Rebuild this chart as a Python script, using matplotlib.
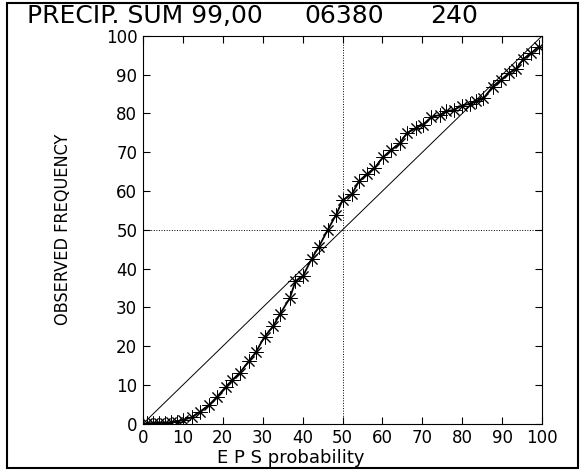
import matplotlib
matplotlib.use('Agg')
import matplotlib.pyplot as plt
from matplotlib.patches import Rectangle

# reliability diagram data
eps_prob = [1.0, 2.5, 4.0, 5.5, 7.0, 8.5, 10.1, 12.2, 14.3, 16.6, 18.6, 20.8,
            22.4, 24.3, 26.5, 28.3, 30.5, 32.6, 34.4, 36.8, 38.2, 40.1, 42.3,
            44.1, 46.3, 48.4, 50.0, 52.4, 54.1, 56.1, 58.0, 60.1, 62.2, 64.3,
            66.1, 68.3, 70.1, 72.2, 74.3, 75.9, 77.8, 79.9, 81.8, 83.4, 85.3,
            87.6, 89.7, 91.8, 93.4, 95.3, 97.2, 99.1]
obs_freq = [0.2, 0.2, 0.3, 0.3, 0.4, 0.6, 1.0, 1.7, 3.1, 4.9, 7.0, 9.6,
            11.3, 13.2, 16.1, 18.5, 22.5, 25.1, 28.4, 32.4, 36.7, 38.1, 42.6,
            45.7, 50.0, 53.9, 57.6, 59.3, 62.5, 64.4, 65.9, 68.7, 70.6, 72.3,
            74.9, 76.2, 77.1, 79.0, 79.6, 80.5, 80.9, 82.0, 82.5, 83.1, 83.9,
            86.9, 88.7, 90.5, 91.4, 94.0, 95.5, 97.2]
diag = [0, 100]
ticks = list(range(0, 101, 10))

fig = plt.figure(figsize=(5.83, 4.71), dpi=100)
ax = fig.add_axes([0.245, 0.1, 0.685, 0.824])

ax.plot(diag, diag, color='black', linewidth=0.7)
ax.plot([50, 50], [0, 100], color='black', linestyle=':', linewidth=0.7)
ax.plot([0, 100], [50, 50], color='black', linestyle=':', linewidth=0.7)
ax.plot(eps_prob, obs_freq, color='black', linewidth=1.3,
        marker=(8, 2, 0), markersize=10, markeredgewidth=0.7)

ax.set_xlim(0, 100)
ax.set_ylim(0, 100)
ax.set_xticks(ticks)
ax.set_yticks(ticks)
ax.tick_params(direction='in', length=5, width=0.8, top=True, right=True,
               labelsize=12, pad=4)
for s in ax.spines.values():
    s.set_linewidth(0.8)

ax.set_xlabel('E P S probability', fontsize=13)
ax.xaxis.set_label_coords(0.37, -0.065)
ax.set_ylabel('OBSERVED FREQUENCY', fontsize=13, labelpad=24,
              fontstretch='condensed')

fig.text(0.046, 0.966, 'PRECIP. SUM 99,00', fontsize=18, va='center')
fig.text(0.522, 0.966, '06380', fontsize=18, va='center')
fig.text(0.737, 0.966, '240', fontsize=18, va='center')

# outer frame of the scanned page
fig.patches.append(Rectangle((0.012, 0.006), 0.98, 0.987, transform=fig.transFigure,
                             fill=False, edgecolor='black', linewidth=1.5))

fig.savefig('out.png', dpi=100)
